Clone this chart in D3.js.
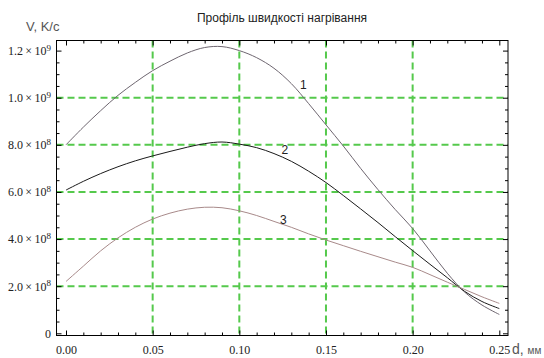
<!DOCTYPE html>
<html>
<head>
<meta charset="utf-8">
<script src="https://cdn.jsdelivr.net/npm/d3@7.9.0/dist/d3.min.js"></script>
<style>
  body { margin: 0; background: #fff; }
  svg { display: block; }
  .tick line { stroke: #000; }
</style>
</head>
<body>
<svg id="chart" width="544" height="358"></svg>
<script>
// --- data ---
const depth = [0, 0.01, 0.02, 0.03, 0.04, 0.05, 0.06, 0.07, 0.08, 0.09, 0.10, 0.11, 0.12,
  0.13, 0.14, 0.15, 0.16, 0.17, 0.18, 0.19, 0.20, 0.21, 0.22, 0.23, 0.24, 0.25];

// heating rate, K/s
const rate1 = [8.0e8, 8.75e8, 9.45e8, 1.01e9, 1.065e9, 1.115e9, 1.155e9, 1.19e9, 1.213e9, 1.217e9,
  1.2e9, 1.17e9, 1.125e9, 1.06e9, 9.75e8, 8.85e8, 7.95e8, 7.0e8, 6.1e8, 5.25e8,
  4.45e8, 3.5e8, 2.55e8, 1.75e8, 1.2e8, 8.0e7];
const rate2 = [6.08e8, 6.45e8, 6.78e8, 7.07e8, 7.32e8, 7.53e8, 7.72e8, 7.9e8, 8.05e8, 8.12e8,
  8.03e8, 7.88e8, 7.63e8, 7.3e8, 6.88e8, 6.4e8, 5.85e8, 5.28e8, 4.7e8, 4.1e8,
  3.51e8, 2.93e8, 2.36e8, 1.78e8, 1.35e8, 1.05e8];
const rate3 = [2.2e8, 2.85e8, 3.5e8, 4.05e8, 4.5e8, 4.85e8, 5.1e8, 5.27e8, 5.35e8, 5.33e8,
  5.2e8, 5.0e8, 4.75e8, 4.5e8, 4.22e8, 3.96e8, 3.72e8, 3.48e8, 3.25e8, 3.02e8,
  2.8e8, 2.49e8, 2.17e8, 1.86e8, 1.55e8, 1.27e8];

const curveNames = ["1", "2", "3"];
const labelD = [0.137, 0.1263, 0.1254];
const labelV = [1.058e9, 7.81e8, 4.84e8];

const xTicks = [0, 0.05, 0.10, 0.15, 0.20, 0.25];
const xTickLabels = ["0.00", "0.05", "0.10", "0.15", "0.20", "0.25"];
const xMinor = [0.01, 0.02, 0.03, 0.04, 0.06, 0.07, 0.08, 0.09, 0.11, 0.12, 0.13, 0.14,
  0.16, 0.17, 0.18, 0.19, 0.21, 0.22, 0.23, 0.24];
const xGrid = [0.05, 0.10, 0.15, 0.20];

const yTicks = [0, 2e8, 4e8, 6e8, 8e8, 1e9, 1.2e9];
const yTickMant = ["0", "2.0", "4.0", "6.0", "8.0", "1.0", "1.2"];
const yTickExp = ["", "8", "8", "8", "8", "9", "9"];
const yGrid = [2e8, 4e8, 6e8, 8e8, 1e9];
const yMinor = d3.range(0, 1.2e9 + 1, 5e7).filter(v => !yTicks.includes(Math.round(v)));

// --- layout ---
const svg = d3.select("#chart");
const frame = { left: 56.5, right: 508, top: 40.5, bottom: 335.5 };

const x = d3.scaleLinear().domain([0, 0.25]).range([66, 499.3]);
const y = d3.scaleLinear().domain([0, 1.2e9]).range([333.3, 50.6]);

// title and axis names
svg.append("text")
  .attr("x", 282).attr("y", 21.5)
  .attr("text-anchor", "middle")
  .attr("font-family", "Liberation Sans, Arial, sans-serif")
  .attr("font-size", 12).attr("fill", "#222")
  .text("Профіль швидкості нагрівання");

svg.append("text")
  .attr("x", 26).attr("y", 31)
  .attr("font-family", "Liberation Sans, Arial, sans-serif")
  .attr("font-size", 13).attr("fill", "#555")
  .text("V, K/c");

svg.append("text")
  .attr("x", 512).attr("y", 354)
  .attr("font-family", "Liberation Sans, Arial, sans-serif")
  .attr("fill", "#555")
  .call(t => {
    t.append("tspan").attr("font-size", 14).text("d, ");
    t.append("tspan").attr("font-size", 10).text("мм");
  });

// grid lines
const grid = svg.append("g")
  .attr("stroke", "#55c94c").attr("stroke-width", 2)
  .attr("stroke-dasharray", "7,4");

grid.selectAll("line.v").data(xGrid).join("line")
  .attr("class", "v")
  .attr("x1", d => x(d)).attr("x2", d => x(d))
  .attr("y1", frame.top).attr("y2", frame.bottom);

grid.selectAll("line.h").data(yGrid).join("line")
  .attr("class", "h")
  .attr("x1", frame.left).attr("x2", frame.right)
  .attr("y1", d => y(d)).attr("y2", d => y(d));

// curves
const series = [rate1, rate2, rate3];
const colors = ["#6e6670", "#1a1a1a", "#a88a8a"];

const line = d3.line()
  .x((d, i) => x(depth[i]))
  .y(d => y(d))
  .curve(d3.curveCatmullRom);

svg.append("g").selectAll("path").data(series).join("path")
  .attr("d", line)
  .attr("fill", "none")
  .attr("stroke", (_, i) => colors[i])
  .attr("stroke-width", 1);

svg.append("g").selectAll("text").data(curveNames).join("text")
  .attr("x", (_, i) => x(labelD[i]))
  .attr("y", (_, i) => y(labelV[i]) + 4.5)
  .attr("text-anchor", "middle")
  .attr("font-family", "Liberation Sans, Arial, sans-serif")
  .attr("font-size", 12)
  .attr("fill", "#222")
  .text(d => d);

// frame
svg.append("rect")
  .attr("x", frame.left).attr("y", frame.top)
  .attr("width", frame.right - frame.left)
  .attr("height", frame.bottom - frame.top)
  .attr("fill", "none").attr("stroke", "#000").attr("stroke-width", 1);

// ticks, pointing inward on all four sides
function ticks(axis, transform) {
  const g = svg.append("g").attr("transform", transform).call(axis);
  g.select(".domain").remove();
  return g;
}

const bottom = ticks(
  d3.axisBottom(x).tickValues(xTicks).tickSize(-5).tickPadding(10)
    .tickFormat((d, i) => xTickLabels[i]),
  `translate(0,${frame.bottom})`);
bottom.selectAll("text")
  .attr("font-family", "Liberation Serif, Times New Roman, serif")
  .attr("font-size", 12).attr("fill", "#222");

ticks(d3.axisBottom(x).tickValues(xMinor).tickSize(-3).tickFormat(""),
  `translate(0,${frame.bottom})`);
ticks(d3.axisTop(x).tickValues(xTicks).tickSize(-5).tickFormat(""),
  `translate(0,${frame.top})`);
ticks(d3.axisTop(x).tickValues(xMinor).tickSize(-3).tickFormat(""),
  `translate(0,${frame.top})`);

const left = ticks(
  d3.axisLeft(y).tickValues(yTicks).tickSize(-5).tickPadding(5.5).tickFormat(""),
  `translate(${frame.left},0)`);
left.selectAll(".tick text")
  .attr("font-family", "Liberation Serif, Times New Roman, serif")
  .attr("font-size", 12).attr("fill", "#222")
  .each(function (d, i) {
    const t = d3.select(this);
    if (!yTickExp[i]) { t.text(yTickMant[i]); return; }
    t.append("tspan").text(yTickMant[i] + "\u2009×\u200910");
    t.append("tspan").attr("font-size", 9).attr("dy", "-0.45em").text(yTickExp[i]);
  });

ticks(d3.axisLeft(y).tickValues(yMinor).tickSize(-3).tickFormat(""),
  `translate(${frame.left},0)`);
ticks(d3.axisRight(y).tickValues(yTicks).tickSize(-5).tickFormat(""),
  `translate(${frame.right},0)`);
ticks(d3.axisRight(y).tickValues(yMinor).tickSize(-3).tickFormat(""),
  `translate(${frame.right},0)`);
</script>
</body>
</html>
